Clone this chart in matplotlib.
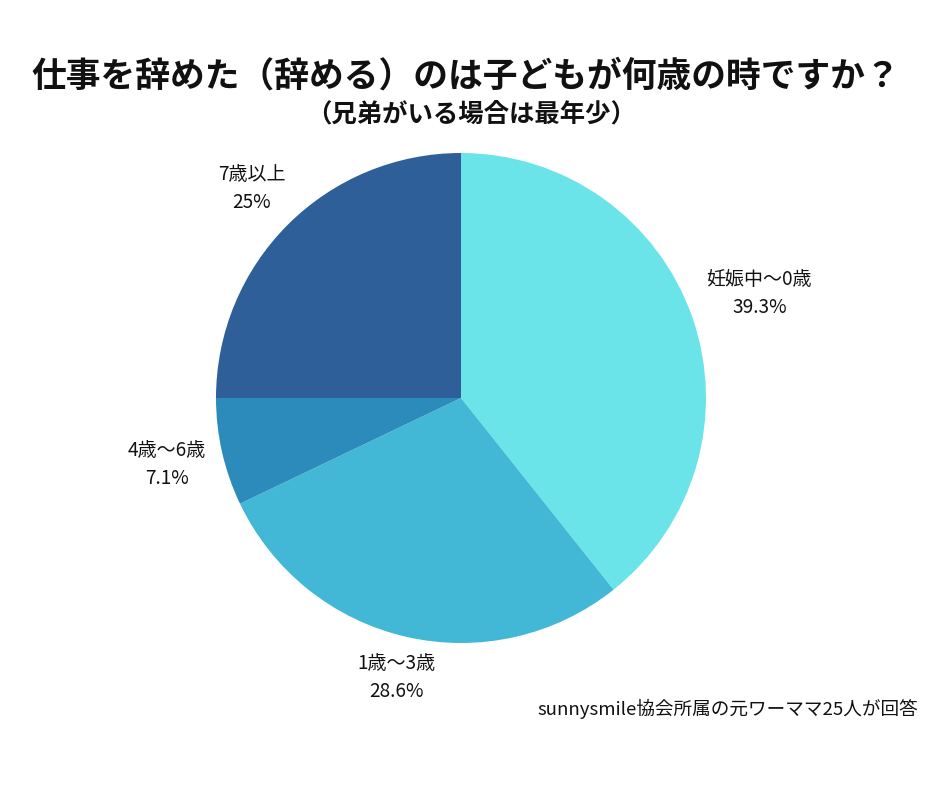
import matplotlib
matplotlib.use("Agg")
import matplotlib.pyplot as plt
import numpy as np

plt.rcParams['font.family'] = ['Noto Sans CJK JP', 'DejaVu Sans']

categories = ["妊娠中〜0歳", "1歳〜3歳", "4歳〜6歳", "7歳以上"]
values = [39.3, 28.6, 7.1, 25.0]
pct_labels = ["39.3%", "28.6%", "7.1%", "25%"]
colors = ["#6AE4E8", "#43B8D6", "#2C8BBB", "#2E5F99"]
label_dist = [1.29, 1.17, 1.23, 1.21]

title = "仕事を辞めた（辞める）のは子どもが何歳の時ですか？"
subtitle = "（兄弟がいる場合は最年少）"
footer = "sunnysmile協会所属の元ワーママ25人が回答"

W, H = 940, 788
fig = plt.figure(figsize=(W / 100, H / 100), dpi=100)
fig.patch.set_facecolor("white")

cx, cy, R = 461, H - 398, 245
half = 300
ax = fig.add_axes([(cx - half) / W, (cy - half) / H, 2 * half / W, 2 * half / H])

wedges, _ = ax.pie(values, colors=colors, startangle=90, counterclock=False,
                   radius=1.0, wedgeprops=dict(linewidth=0))
ax.set_xlim(-half / R, half / R)
ax.set_ylim(-half / R, half / R)
ax.set_aspect("equal")
ax.axis("off")

total = sum(values)
start = 90.0
for i, (cat, pl, v) in enumerate(zip(categories, pct_labels, values)):
    span = 360.0 * v / total
    mid = np.deg2rad(start - span / 2)
    start -= span
    x = label_dist[i] * np.cos(mid)
    y = label_dist[i] * np.sin(mid)
    ax.text(x, y, cat + "\n" + pl, ha="center", va="center", fontsize=13.7,
            color="#111111", linespacing=1.45)

fig.text(466 / W, 1 - 76 / H, title, ha="center", va="center",
         fontsize=25, fontweight="bold", color="#111111")
fig.text(471 / W, 1 - 114 / H, subtitle, ha="center", va="center",
         fontsize=18.3, fontweight="bold", color="#111111")
fig.text(918 / W, 1 - 709 / H, footer, ha="right", va="center",
         fontsize=13.4, color="#111111")

fig.savefig("out.png", dpi=100, facecolor="white")
